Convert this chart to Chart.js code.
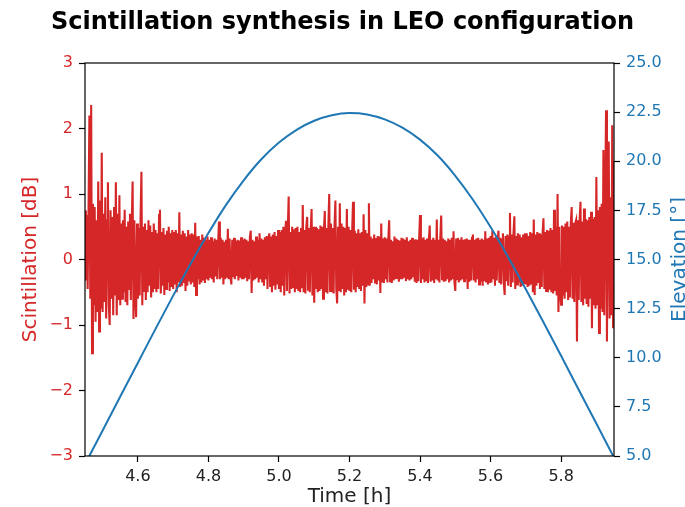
<!DOCTYPE html>
<html>
<head>
<meta charset="utf-8">
<script src="https://cdn.jsdelivr.net/npm/chart.js@4/dist/chart.umd.min.js"></script>
<style>
	html, body { margin: 0; padding: 0; background: #fff; }
	#wrap { width: 685px; height: 507px; }
</style>
</head>
<body>
<div id="wrap"><canvas id="chart" width="685" height="507"></canvas></div>
<script>
const RED = '#d62728';
const BLUE = '#1f77b4';
const FONT = "'DejaVu Sans', sans-serif";

// elevation of the pass, read every 0.05 h
const elevTime = [4.45, 4.50, 4.55, 4.60, 4.65, 4.70, 4.75, 4.80, 4.85, 4.90, 4.95,
	5.00, 5.05, 5.10, 5.15, 5.20, 5.25, 5.30, 5.35, 5.40, 5.45,
	5.50, 5.55, 5.60, 5.65, 5.70, 5.75, 5.80, 5.85, 5.90, 5.95];
const elevation = [4.58, 6.30, 8.03, 9.75, 11.47, 13.16, 14.80, 16.35, 17.78, 19.03, 20.10,
	20.95, 21.60, 22.06, 22.34, 22.45, 22.38, 22.13, 21.71, 21.10, 20.29,
	19.26, 18.04, 16.65, 15.12, 13.49, 11.81, 10.10, 8.37, 6.65, 4.92];

// scintillation samples, one every 0.0025 h from 4.45 h (one row = 0.05 h)
const scintStart = 4.45;
const scintStep = 0.0025;
const scintillation = [
	0.75, -0.32, 0.68, -0.45, 0.72, 2.2, -0.6, 2.36, -1.43, 0.85, -0.7, 0.8, -0.95, 0.6, -0.8, 1.19, -1.10, 0.9, -0.75, 1.63,
	-0.8, 0.7, -0.65, 0.95, -0.9, 0.6, 1.18, -0.7, -1.0, 0.75, -0.6, 0.65, -0.85, 0.8, -0.55, 1.18, -0.85, 0.7, -0.62, 0.98,
	-0.7, 0.55, -0.6, 0.6, -0.5, 0.76, -0.65, 0.5, -0.7, 0.58, -0.45, 0.7, -0.62, 0.52, 1.19, -0.91, 0.6, -0.55, -0.88, 0.55,
	-0.6, 0.48, -0.55, 0.62, 1.34, -0.7, 0.5, -0.48, 0.55, -0.62, 0.45, -0.5, 0.6, -0.4, 0.52, -0.58, 0.42, -0.5, 0.55, -0.45,
	0.45, -0.5, 0.4, -0.45, 0.68, 0.76, -0.52, 0.42, -0.4, 0.48, -0.54, 0.38, -0.45, 0.44, -0.35, 0.5, -0.48, 0.4, -0.42, 0.45,
	-0.45, 0.42, -0.38, 0.45, -0.5, 0.4, -0.35, 0.72, -0.42, 0.38, -0.4, 0.44, -0.36, 0.4, -0.48, 0.35, -0.4, 0.45, -0.32, 0.38,
	-0.38, 0.4, -0.35, 0.38, -0.42, 0.56, -0.54, 0.35, -0.3, 0.36, -0.38, 0.3, -0.35, 0.38, -0.32, 0.33, -0.36, 0.3, -0.3, 0.35,
	-0.32, 0.3, -0.28, 0.34, -0.3, 0.28, -0.35, 0.32, -0.26, 0.3, -0.3, 0.25, 0.58, -0.3, 0.33, -0.28, 0.3, -0.38, 0.27, -0.3,
	0.3, -0.28, 0.47, -0.3, 0.32, -0.26, -0.38, 0.3, -0.27, 0.33, -0.3, 0.28, -0.25, 0.3, -0.32, 0.29, -0.28, 0.34, -0.3, 0.3,
	-0.3, 0.32, -0.28, 0.3, -0.33, 0.28, -0.3, 0.34, 0.44, -0.51, 0.3, -0.32, 0.28, -0.3, 0.35, -0.28, 0.3, -0.35, 0.4, -0.3,
	0.32, -0.35, 0.3, -0.4, 0.34, -0.3, 0.36, -0.45, 0.3, 0.4, -0.42, 0.35, -0.5, 0.38, -0.4, 0.42, -0.46, 0.36, -0.38, 0.45,
	-0.45, 0.42, -0.5, 0.45, -0.4, 0.5, -0.55, 0.4, 0.59, -0.48, 0.44, 0.96, -0.52, 0.42, -0.45, 0.5, -0.42, 0.46, -0.5, 0.48,
	-0.45, 0.5, -0.48, 0.42, -0.5, 0.48, -0.44, 0.83, -0.5, 0.45, -0.52, 0.5, 0.65, -0.46, 0.48, -0.5, 0.44, 0.77, -0.55, 0.5,
	-0.66, 0.5, -0.45, 0.48, -0.5, 0.46, -0.48, 0.52, -0.45, 0.5, -0.6, 0.45, 0.74, -0.5, 0.48, -0.52, 0.5, 1.0, -0.48, 0.55,
	-0.5, 0.48, -0.52, 0.5, 0.9, -0.45, -0.67, 0.5, -0.48, 0.86, -0.5, 0.55, -0.45, 0.5, -0.55, 0.48, -0.5, 0.77, -0.46, 0.5,
	-0.48, 0.45, -0.5, 0.42, 0.88, -0.46, 0.44, -0.5, 0.4, -0.42, 0.46, -0.45, 0.4, -0.48, 0.42, -0.4, 0.69, -0.67, 0.45, -0.42,
	0.4, -0.38, 0.86, -0.4, 0.35, -0.36, 0.32, -0.3, 0.38, -0.35, 0.33, -0.38, 0.36, -0.32, 0.35, -0.51, 0.55, -0.35, 0.32, -0.36,
	0.34, -0.3, 0.32, -0.35, 0.3, 0.6, -0.33, 0.3, -0.36, 0.28, -0.32, 0.35, -0.3, 0.32, -0.28, 0.3, -0.34, 0.29, -0.3, 0.33,
	-0.3, 0.32, -0.28, 0.3, -0.33, 0.34, -0.3, 0.28, -0.32, 0.3, -0.3, 0.33, -0.27, 0.3, -0.34, 0.31, -0.36, 0.3, -0.33, 0.32,
	0.68, -0.36, 0.32, -0.3, 0.34, -0.35, 0.3, -0.33, 0.32, -0.36, 0.3, 0.52, -0.34, 0.3, -0.32, 0.33, -0.36, 0.3, -0.3, 0.61,
	-0.32, 0.3, -0.35, 0.33, 0.67, -0.3, 0.32, -0.34, 0.3, -0.33, 0.28, -0.3, 0.32, -0.35, 0.3, -0.32, 0.33, -0.3, 0.43, -0.34,
	-0.48, 0.32, -0.3, 0.33, -0.35, 0.3, -0.32, 0.34, -0.3, 0.3, -0.33, 0.31, -0.3, 0.32, -0.45, 0.3, -0.34, 0.3, -0.32, 0.33,
	0.38, -0.32, 0.3, -0.35, 0.32, -0.3, 0.33, -0.38, 0.3, -0.34, 0.32, -0.4, 0.3, -0.33, 0.43, -0.35, 0.32, -0.38, 0.33, -0.36,
	0.36, -0.35, 0.44, -0.3, 0.33, -0.4, 0.35, -0.32, 0.3, 0.44, -0.36, 0.33, -0.38, 0.3, 0.4, -0.35, -0.54, 0.36, -0.33, 0.38,
	-0.4, 0.35, 0.71, -0.42, 0.38, -0.35, 0.4, 0.66, -0.45, 0.36, -0.38, 0.4, -0.35, 0.38, -0.42, 0.34, -0.4, 0.38, -0.36, 0.4,
	-0.38, 0.4, -0.42, 0.36, -0.4, 0.42, -0.38, 0.4, -0.5, 0.61, -0.54, 0.38, -0.4, 0.42, -0.36, 0.4, -0.45, 0.38, -0.42, 0.4,
	0.63, -0.45, 0.42, -0.48, 0.45, -0.5, 0.44, -0.46, 0.48, -0.5, 0.45, -0.52, 0.76, -0.48, 0.5, -0.55, 1.0, -0.8, 0.5, -0.52,
	-0.69, 0.52, -0.55, 0.5, -0.6, 0.55, -0.5, 0.58, -0.62, 0.5, -0.58, 0.55, 0.8, -0.6, 0.56, -0.65, 0.55, 0.6, -1.25, 0.6,
	-0.62, 0.6, 0.88, -0.65, 0.58, -0.7, 0.78, -0.6, 0.62, -0.68, 0.6, -0.72, 0.65, -0.6, 0.73, -1.05, 0.62, -0.7, 0.65, -0.75,
	1.26, -0.7, 0.75, -1.12, 0.8, -0.75, 0.85, -0.8, 1.67, -0.85, 0.9, 2.28, -1.25, 0.85, 1.8, -0.9, 0.95, -0.85, 2.05, -1.05,
	1.5
];

const xTicks = [4.6, 4.8, 5.0, 5.2, 5.4, 5.6, 5.8];


// box around the axes plus the right hand label (reads bottom to top like the left one)
const framePlugin = {
	id: 'frame',
	afterDatasetsDraw(chart)
	{
		const { ctx, chartArea: a } = chart;
		ctx.save();
		ctx.strokeStyle = '#000';
		ctx.lineWidth = 1.2;
		ctx.strokeRect(a.left, a.top, a.right - a.left, a.bottom - a.top);
		ctx.restore();
	},
	afterDraw(chart)
	{
		const { ctx, chartArea: a } = chart;
		ctx.save();
		ctx.translate(685, (a.top + a.bottom) / 2);
		ctx.rotate(-Math.PI / 2);
		ctx.font = '20px ' + FONT;
		ctx.fillStyle = BLUE;
		ctx.textAlign = 'center';
		ctx.textBaseline = 'alphabetic';
		ctx.fillText('Elevation [°]', 0, 0);
		ctx.restore();
	}
};


const tickGrid = {
	display: true,
	drawOnChartArea: false,
	drawTicks: true,
	tickLength: 6,
	tickWidth: 1.2,
	tickColor: '#000'
};

new Chart(document.getElementById('chart'), {
	type: 'line',
	data: {
		datasets: [
			{
				label: 'Elevation',
				data: elevTime.map((t, i) => ({ x: t, y: elevation[i] })),
				yAxisID: 'y2',
				borderColor: BLUE,
				borderWidth: 2,
				pointRadius: 0,
				cubicInterpolationMode: 'monotone',
				fill: false
			},
			{
				label: 'Scintillation',
				data: scintillation.map((v, i) => ({ x: scintStart + i * scintStep, y: v })),
				yAxisID: 'y',
				borderColor: RED,
				borderWidth: 2.1,
				pointRadius: 0,
				tension: 0,
				fill: false
			}
		]
	},
	options: {
		responsive: false,
		animation: false,
		events: [],
		layout: { padding: 0 },
		plugins: {
			legend: { display: false },
			tooltip: { enabled: false },
			title: {
				display: true,
				text: 'Scintillation synthesis in LEO configuration',
				color: '#000',
				font: { family: FONT, size: 24, weight: 'bold', lineHeight: 1.2 },
				padding: { top: 8, bottom: 26.2 }
			}
		},
		scales: {
			x: {
				type: 'linear',
				position: 'bottom',
				min: 4.45,
				max: 5.95,
				afterBuildTicks: s => { s.ticks = xTicks.map(v => ({ value: v })); },
				afterFit: s => { s.height = 51; },
				grid: tickGrid,
				border: { display: false },
				ticks: {
					color: '#222',
					padding: 5,
					maxRotation: 0,
					font: { family: FONT, size: 16 },
					callback: v => v.toFixed(1)
				},
				title: {
					display: true,
					text: 'Time [h]',
					color: '#222',
					font: { family: FONT, size: 20, lineHeight: 1 },
					padding: { top: 0, bottom: 0 }
				}
			},
			y: {
				type: 'linear',
				position: 'left',
				min: -3,
				max: 3,
				afterFit: s => { s.width = 85; },
				grid: tickGrid,
				border: { display: false },
				ticks: {
					stepSize: 1,
					color: RED,
					padding: 6,
					font: { family: FONT, size: 16 },
					callback: v => v < 0 ? '\u2212' + (-v) : String(v)
				},
				title: {
					display: true,
					text: 'Scintillation [dB]',
					color: RED,
					font: { family: FONT, size: 20, lineHeight: 1.2 },
					padding: { top: 19, bottom: 0 }
				}
			},
			y2: {
				type: 'linear',
				position: 'right',
				min: 5,
				max: 25,
				afterFit: s => { s.width = 71; },
				grid: tickGrid,
				border: { display: false },
				ticks: {
					stepSize: 2.5,
					color: BLUE,
					padding: 6,
					font: { family: FONT, size: 16 },
					callback: v => v.toFixed(1)
				}
			}
		}
	},
	plugins: [framePlugin]
});
</script>
</body>
</html>
